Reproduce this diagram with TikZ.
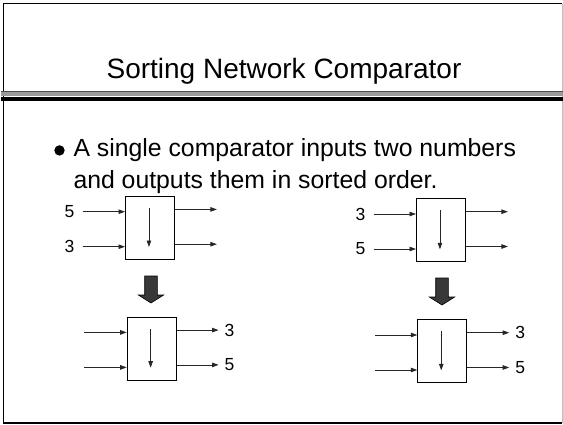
\documentclass[tikz,border=0pt]{standalone}
\usepackage{fontspec}
\setmainfont{Liberation Sans}
\usetikzlibrary{arrows.meta}
\begin{document}
\begin{tikzpicture}[x=1pt,y=-1pt,
  cmpbox/.style={draw=black,line width=0.9pt,minimum width=49pt,minimum height=63pt,inner sep=0pt},
  wire/.style={line width=0.8pt,draw=black!85,-{Triangle[length=6.5pt,width=4.5pt]}},
  numlbl/.style={font=\fontsize{17.5}{20}\selectfont,inner sep=0pt},
  bodytext/.style={font=\fontsize{24.8}{28}\selectfont,anchor=base west,inner sep=0pt},
  bigdown/.style={fill=black!78,draw=black,line width=0.6pt}]
  \useasboundingbox (0,0) rectangle (563,424);
  % slide frame
  \draw[line width=1.6pt,black] (562,3.5) -- (3.5,3.5) -- (3.5,423) -- (562,423);
  \draw[line width=1pt,black!25] (562,3.5) -- (562,423);
  % title divider
  \fill[black!40] (1,90.8) rectangle (563,95.8);
  \draw[line width=0.6pt,black!70] (1,91) -- (563,91);
  \fill[black] (1,97.4) rectangle (563,100.7);
  % title
  \node[font=\fontsize{28}{31}\selectfont,anchor=base] (title) at (284,78.3) {Sorting Network Comparator};
  % bullet
  \fill[black] (59.5,150.4) circle (5.2);
  \node[bodytext] (line1) at (73.3,156) {A single comparator inputs two numbers};
  \node[bodytext] (line2) at (73.3,188) {and outputs them in sorted order.};

  % comparator boxes
  \node[cmpbox,anchor=north west] (A) at (125,196) {};
  \node[cmpbox,anchor=north west] (B) at (126.7,316.7) {};
  \node[cmpbox,anchor=north west] (C) at (416,198.3) {};
  \node[cmpbox,anchor=north west] (D) at (417.3,319.3) {};

  % wires and inner arrow of each comparator
  \foreach \b in {A,B,C,D}{
    \coordinate (in1\b) at ([xshift=-42.5pt,yshift=-15.7pt]\b.north west);
    \coordinate (in2\b) at ([xshift=-42.5pt,yshift=-50.7pt]\b.north west);
    \coordinate (out1\b) at ([xshift=42pt,yshift=-13.4pt]\b.north east);
    \coordinate (out2\b) at ([xshift=42pt,yshift=-48.2pt]\b.north east);
    \draw[wire] (in1\b) -- (in1\b -| \b.west);
    \draw[wire] (in2\b) -- (in2\b -| \b.west);
    \draw[wire] ([yshift=-13.4pt]\b.north east) -- (out1\b);
    \draw[wire] ([yshift=-48.2pt]\b.north east) -- (out2\b);
    \coordinate (top\b) at ([xshift=-1pt,yshift=-12pt]\b.north);
    \coordinate (bot\b) at ([xshift=-1pt,yshift=-51pt]\b.north);
    \draw[wire] (top\b) -- (bot\b);
  }
  % input labels
  \node[numlbl] (a5) at ([xshift=-13pt]in1A) {5};
  \node[numlbl] (a3) at ([xshift=-13pt]in2A) {3};
  \node[numlbl] (c3) at ([xshift=-13pt]in1C) {3};
  \node[numlbl] (c5) at ([xshift=-13pt]in2C) {5};
  % output labels
  \node[numlbl] (b3) at ([xshift=11pt]out1B) {3};
  \node[numlbl] (b5) at ([xshift=11pt]out2B) {5};
  \node[numlbl] (d3) at ([xshift=11pt]out1D) {3};
  \node[numlbl] (d5) at ([xshift=11pt]out2D) {5};

  % block arrows between the stages
  \foreach \cx/\ty in {151/276, 442/278}{
    \draw[bigdown] (\cx-6.3,\ty) -- (\cx+6.3,\ty) -- (\cx+6.3,\ty+19) -- (\cx+12.7,\ty+19)
      -- (\cx,\ty+27) -- (\cx-12.7,\ty+19) -- (\cx-6.3,\ty+19) -- cycle;
  }
\end{tikzpicture}
\end{document}
